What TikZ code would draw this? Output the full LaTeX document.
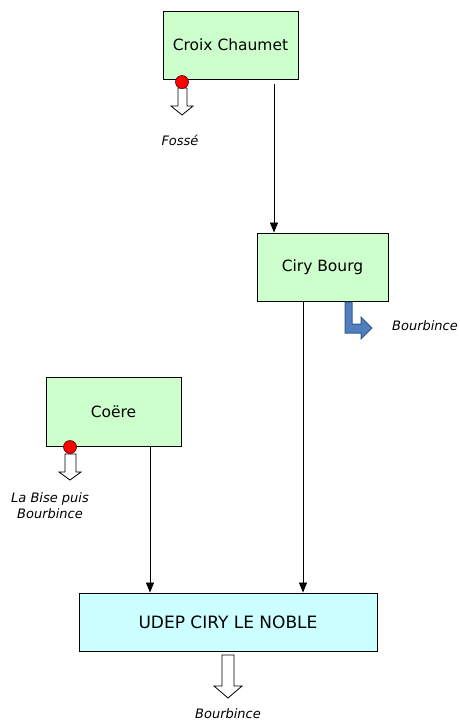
\documentclass[tikz,border=0pt]{standalone}
\usepackage{fontspec}
\setmainfont{DejaVu Sans}
\usetikzlibrary{arrows.meta}
\definecolor{boxgreen}{HTML}{CCFFCC}
\definecolor{boxcyan}{HTML}{CCFFFF}
\definecolor{bluefill}{HTML}{4F7FBE}
\definecolor{blueline}{HTML}{36598A}
\tikzset{
  box/.style={draw=black, line width=0.9pt, fill=boxgreen, inner sep=0pt, font=\fontsize{15.5}{18}\selectfont},
  arr/.style={line width=0.8pt, -{Triangle[width=8pt,length=10pt]}},
  lbl/.style={font=\fontsize{13}{16}\selectfont\itshape, inner sep=0pt, align=center},
  hollow/.style={draw=black, line width=0.8pt, fill=white},
  outlet/.style={draw=black!70!red, line width=0.6pt, fill=red},
}
\begin{document}
\begin{tikzpicture}[x=1pt,y=-1pt]
\useasboundingbox (0,0) rectangle (460,721);
% boxes
\node[box, minimum width=135pt, minimum height=68pt] (cc) at (230.5,45) {Croix Chaumet};
\node[box, minimum width=131pt, minimum height=68pt] (cb) at (322.5,267) {Ciry Bourg};
\node[box, minimum width=135pt, minimum height=69pt] (coe) at (113.5,411.5) {Coëre};
\node[box, fill=boxcyan, minimum width=298pt, minimum height=58pt, font=\fontsize{17}{20}\selectfont] (udep) at (228,622) {UDEP CIRY LE NOBLE};
% connectors
\draw[arr] ([xshift=43.5pt,yshift=-5pt]cc.south) -- ([xshift=-48.5pt]cb.north);
\draw[arr] ([xshift=-19.5pt]cb.south) -- ([xshift=75pt]udep.north);
\draw[arr] ([xshift=36.5pt]coe.south) -- ([xshift=-78pt]udep.north);
% hollow arrows
\draw[hollow] (178,88) -- (187,88) -- (187,106) -- (193,106) -- (182,115) -- (171,106) -- (178,106) -- cycle;
\draw[outlet] (182,82) circle (6.5);
\draw[hollow] (65,454) -- (76,454) -- (76,472) -- (81,472) -- (70,480) -- (59,472) -- (65,472) -- cycle;
\draw[outlet] (70,447) circle (6.5);
\draw[hollow] (222,655) -- (234,655) -- (234,686) -- (242,686) -- (228,698) -- (214,686) -- (222,686) -- cycle;
% blue bent arrow
\draw[fill=bluefill, draw=blueline, line width=1pt, line join=miter]
  (345,302) -- (352,302) -- (352,324) -- (361,324) -- (361,317) -- (372,328) -- (361,339) -- (361,333) -- (345,333) -- cycle;
% labels
\node[lbl] (fosse) at (180,140) {Fossé};
\node[lbl] (b1) at (425,326) {Bourbince};
\node[lbl] (lab) at (50,506) {La Bise puis\\Bourbince};
\node[lbl] (b3) at (228,714) {Bourbince};
\end{tikzpicture}
\end{document}
